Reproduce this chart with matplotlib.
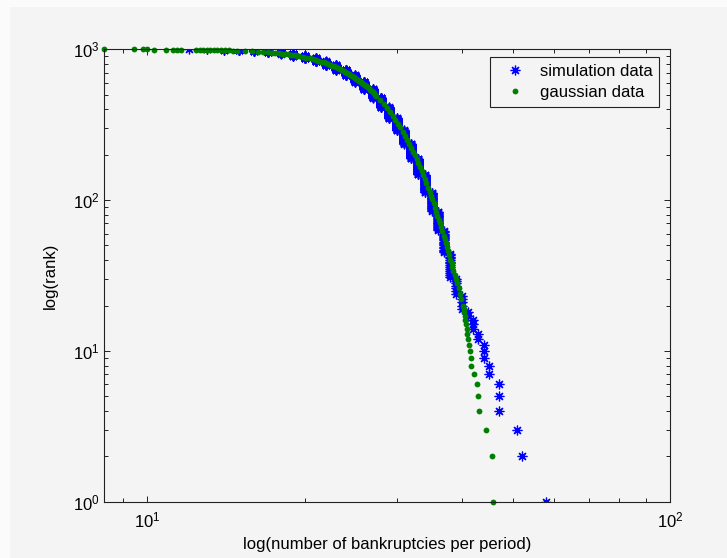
import matplotlib.pyplot as plt
from matplotlib.patches import Rectangle
from matplotlib.ticker import NullFormatter
import numpy as np

plt.rcParams['font.family'] = ['Liberation Sans', 'DejaVu Sans']
plt.rcParams['mathtext.fontset'] = 'custom'
plt.rcParams['mathtext.rm'] = 'Liberation Sans'
plt.rcParams['mathtext.it'] = 'Liberation Sans:italic'
plt.rcParams['mathtext.bf'] = 'Liberation Sans:bold'

# simulation data: how many periods had each number of bankruptcies
sim_values = np.arange(12, 59)
sim_counts = [1, 2, 4, 7, 11, 17, 22, 30, 34, 41,
              47, 53, 59, 63, 65, 66, 66, 63, 59, 54,
              48, 41, 35, 28, 22, 18, 14, 7, 5, 2,
              3, 2, 3, 2, 0, 3, 0, 0, 0, 1,
              1, 0, 0, 0, 0, 0, 1]

# gaussian data: rank -> value
gauss_rank = [1, 2, 3, 4, 5, 6, 7, 8, 9, 10, 11, 12, 13, 14, 15, 16, 17, 18, 19, 20,
              22, 24, 26, 28, 30, 32, 34, 36, 38, 40, 43, 46, 49, 52, 55, 58, 62, 66, 70, 74,
              79, 84, 89, 95, 101, 107, 114, 121, 129, 137, 146, 155, 165, 175, 186, 198,
              210, 223, 237, 252, 268, 285, 303, 322, 342, 363, 386, 410, 436, 463, 492,
              500, 510, 520, 530, 540, 550, 560, 570, 580, 590, 600, 610, 620, 630, 640,
              650, 660, 670, 680, 690, 700, 710, 720, 730, 740, 750, 760, 770, 780, 790,
              800, 810, 820, 830, 840, 850, 860, 870, 880, 890, 900,
              905, 910, 915, 920, 925, 930, 935, 940, 945, 950, 955, 960, 965, 970, 975, 980,
              981, 982, 983, 984, 985, 986, 987, 988, 989, 990, 991, 992, 993, 994, 995,
              996, 997, 998, 999, 1000]
gauss_value = [45.9, 45.6, 44.4, 43.1, 43.0, 42.7, 42.2, 41.7, 41.6, 41.4, 41.2, 41.1, 40.9,
               40.8, 40.7, 40.6, 40.5, 40.4, 40.3, 40.2,
               39.9, 39.7, 39.4, 39.1, 38.9, 38.7, 38.5, 38.3, 38.2, 38.0, 37.8, 37.6, 37.4,
               37.25, 37.1, 36.9, 36.7, 36.5, 36.3, 36.15,
               35.9, 35.7, 35.5, 35.3, 35.1, 34.9, 34.7, 34.45, 34.2, 34.0, 33.7, 33.5, 33.25,
               33.0, 32.75, 32.5, 32.2, 31.95, 31.7, 31.4, 31.1, 30.8, 30.45, 30.1, 29.8,
               29.45, 29.1, 28.7, 28.3, 27.9, 27.4,
               27.3, 27.15, 27.0, 26.85, 26.7, 26.54, 26.4, 26.23, 26.07, 25.9, 25.76, 25.6,
               25.45, 25.3, 25.12, 24.96, 24.8, 24.6, 24.46, 24.3, 24.1, 23.93, 23.76, 23.57,
               23.38, 23.2, 23.0, 22.8, 22.6, 22.4, 22.18, 21.96, 21.73, 21.5, 21.25, 21.0,
               20.7, 20.44, 20.15, 19.83, 19.5,
               19.33, 19.14, 18.95, 18.75, 18.54, 18.32, 18.09, 17.85, 17.58, 17.3, 16.98,
               16.65, 16.28, 15.87, 15.4, 14.84,
               14.6, 14.35, 14.1, 13.8, 13.6, 13.4, 13.2, 13.0, 12.8, 12.6, 12.4, 11.6, 11.4,
               11.2, 10.86, 10.3, 9.97, 9.8, 9.43, 8.27]

# rank plot: sort descending, rank 1 = largest
sim_sorted = np.repeat(sim_values, sim_counts)[::-1]
sim_rank = np.arange(1, len(sim_sorted) + 1)

bg = '#f4f4f4'
fig = plt.figure(figsize=(7.27, 5.58), dpi=100, facecolor=bg)
# lighter strips along the top and left of the screenshot
fig.add_artist(Rectangle((0, 1 - 7 / 558), 1, 7 / 558, transform=fig.transFigure,
                         color='#fbfbfb', lw=0, zorder=-1))
fig.add_artist(Rectangle((0, 0), 10 / 727, 1, transform=fig.transFigure,
                         color='#fbfbfb', lw=0, zorder=-1))

ax = fig.add_axes([104.3 / 727, 1 - 501.7 / 558, (670 - 104.3) / 727, (501.7 - 49.3) / 558])
ax.set_facecolor(bg)

ax.loglog(sim_sorted, sim_rank, linestyle='none', marker=(8, 2, 0), markersize=7,
          markeredgewidth=0.9, color='#0000ff', label='simulation data')
ax.loglog(gauss_value, gauss_rank, linestyle='none', marker='o', markersize=4.2,
          markeredgewidth=0, color='#008000', label='gaussian data', clip_on=False)

ax.set_xlim(8.27, 100)
ax.set_ylim(1, 1000)

for s in ax.spines.values():
    s.set_color('#222222')
    s.set_linewidth(0.8)
ax.tick_params(which='both', direction='in', top=True, right=True, colors='#222222',
               labelcolor='black', labelsize=12, width=0.7)
ax.tick_params(which='major', length=4.5)
ax.tick_params(which='minor', length=2.6)
ax.tick_params(axis='x', pad=6)
ax.tick_params(axis='y', pad=3.5)
ax.xaxis.set_minor_formatter(NullFormatter())
ax.yaxis.set_minor_formatter(NullFormatter())

ax.set_xlabel('log(number of bankruptcies per period)', fontsize=12, va='center')
ax.xaxis.set_label_coords(0.5, (501.7 - 545) / 452.4)
ax.set_ylabel('log(rank)', fontsize=12, va='center')
ax.yaxis.set_label_coords((50 - 104.3) / 565.7, 0.5)

leg = ax.legend(loc='upper right', bbox_to_anchor=((659 - 104.3) / 565.7, 1 - 8 / 452.4),
                borderaxespad=0, fontsize=12, fancybox=False, framealpha=1,
                facecolor=bg, edgecolor='#222222', borderpad=0.4, handlelength=2.2,
                handletextpad=0.4, labelspacing=0.36)
leg.get_frame().set_linewidth(0.8)

fig.savefig('out.png', dpi=100, facecolor=bg)
